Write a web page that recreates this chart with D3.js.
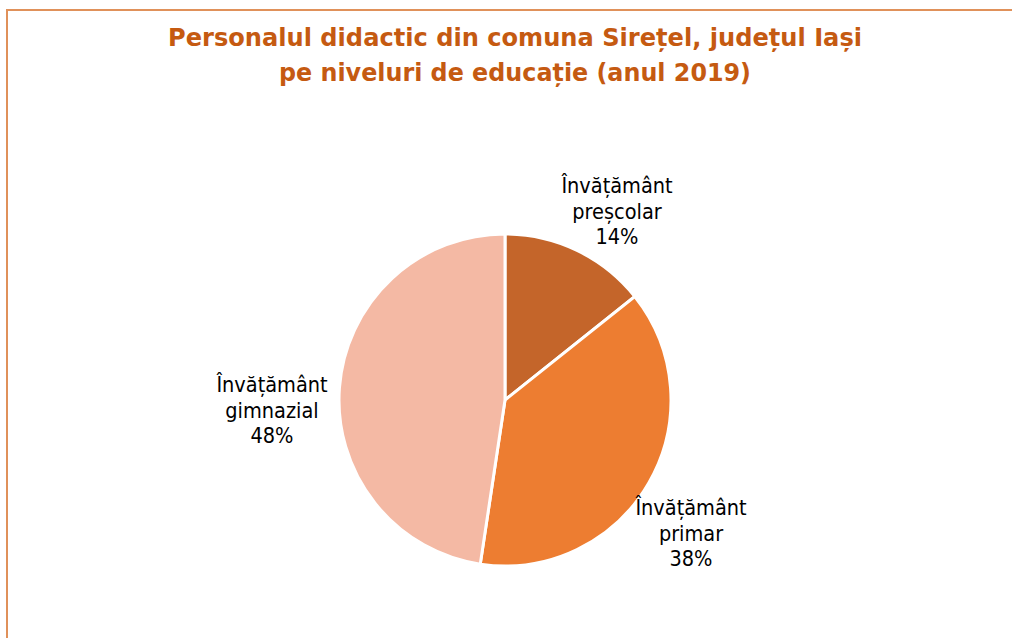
<!DOCTYPE html>
<html><head><meta charset="utf-8">
<script src="https://cdn.jsdelivr.net/npm/d3@7"></script>
<style>body{margin:0;background:#fff}svg{display:block}</style>
</head><body>
<svg id="c" width="1012" height="638"></svg>
<script>
const titleLines = ["Personalul didactic din comuna Sirețel, județul Iași", "pe niveluri de educație (anul 2019)"];
const categories = ["Învățământ preșcolar", "Învățământ primar", "Învățământ gimnazial"];
const labelLines = [["Învățământ","preșcolar"],["Învățământ","primar"],["Învățământ","gimnazial"]];
const values = [3, 8, 10];
const colors = ["#C4652A", "#ED7D31", "#F4B9A4"];

const svg = d3.select("#c");
// frame
svg.append("line").attr("x1",6).attr("x2",1012).attr("y1",10).attr("y2",10).attr("stroke","#E0915A").attr("stroke-width",2);
svg.append("line").attr("x1",7).attr("x2",7).attr("y1",9).attr("y2",638).attr("stroke","#E0915A").attr("stroke-width",2);

// title
const titleW = [694, 472];
titleLines.forEach((t,i)=>{
  svg.append("text").attr("x",515).attr("y",[46,81][i]).attr("text-anchor","middle")
    .attr("font-family","DejaVu Sans Condensed, DejaVu Sans").attr("font-weight","bold").attr("font-size",25.5)
    .attr("fill","#C55A11").text(t)
    .attr("textLength", titleW[i]).attr("lengthAdjust","spacingAndGlyphs");
});

const cx = 505, cy = 400, r = 166;
const total = d3.sum(values);
const pie = d3.pie().sort(null)(values);
const arc = d3.arc().innerRadius(0).outerRadius(r);
const g = svg.append("g").attr("transform",`translate(${cx},${cy})`);
g.selectAll("path").data(pie).join("path").attr("d",arc)
  .attr("fill",(d,i)=>colors[i]).attr("stroke","#fff").attr("stroke-width",3).attr("stroke-linejoin","miter");

const labelPos = [[617,193],[691,515],[272,392]];
const pct = v => d3.format(".0%")(v/total);
pie.forEach((d,i)=>{
  const t = svg.append("text").attr("x",labelPos[i][0]).attr("y",labelPos[i][1]).attr("text-anchor","middle")
    .attr("font-family","DejaVu Sans Condensed, DejaVu Sans").attr("font-size",21.5).attr("fill","#000");
  const lines = labelLines[i].concat([pct(values[i])]);
  lines.forEach((l,j)=>{
    t.append("tspan").attr("x",labelPos[i][0]).attr("dy", j===0?0:25.5).text(l);
  });
});
</script>
</body></html>
